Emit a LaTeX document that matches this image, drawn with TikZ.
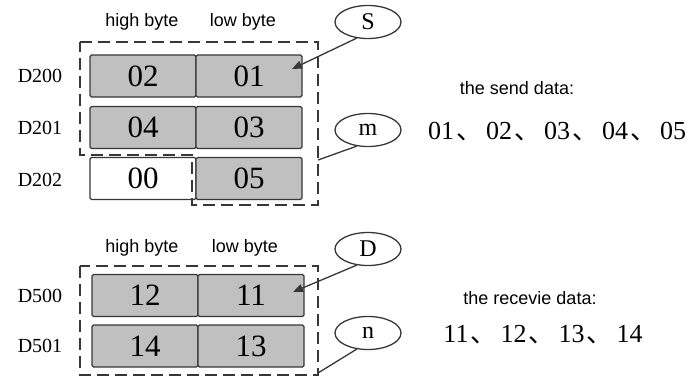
\documentclass[tikz,border=0pt]{standalone}
\usepackage{fontspec}
\setmainfont{Liberation Serif}
\setsansfont{Liberation Sans}
\newfontfamily\cjk{Noto Sans CJK SC}
\usepackage{tikz}
\usetikzlibrary{shapes.geometric, arrows.meta, positioning, calc}
\definecolor{cellgray}{RGB}{192,192,192}
\definecolor{linegray}{RGB}{55,55,55}
\newcommand{\dun}{\hspace{2pt}{\cjk 、}\hspace{4pt}}

\tikzset{
  cell/.style={draw=linegray, line width=1.4pt, fill=cellgray,
    minimum width=106pt, minimum height=42pt, inner sep=0pt,
    rounded corners=1.5pt, font=\fontsize{31}{31}\selectfont},
  blank/.style={cell, fill=white},
  reglabel/.style={font=\fontsize{20}{20}\selectfont},
  bytelabel/.style={font=\sffamily\fontsize{18}{18}\selectfont},
  opnd/.style={draw=linegray, ellipse, line width=1.3pt, minimum width=66pt,
    minimum height=33pt, inner sep=0pt, font=\fontsize{24}{24}\selectfont},
  region/.style={draw=linegray, line width=1.6pt, dash pattern=on 12pt off 6pt},
  pointer/.style={draw=linegray, line width=1.3pt},
  datahead/.style={font=\sffamily\fontsize{18}{18}\selectfont},
  datalist/.style={font=\fontsize{26}{26}\selectfont}
}

\begin{document}
\begin{tikzpicture}[x=1pt, y=-1pt]
\useasboundingbox (0,0) rectangle (694,381);
% Send block
\node[bytelabel] (hiS) at (142,22) {high byte};
\node[bytelabel] (loS) at (243,22) {low byte};
\node[cell] (h200) at (143,76) {02};
\node[cell] (l200) at (249,76) {01};
\node[cell] (h201) at (143,127.5) {04};
\node[cell] (l201) at (249,127.5) {03};
\node[blank] (h202) at (143,178.5) {00};
\node[cell] (l202) at (249,178.5) {05};
\node[reglabel] (r200) at (40,76) {D200};
\node[reglabel] (r201) at (40,127.5) {D201};
\node[reglabel] (r202) at (40,180) {D202};
\draw[region] (80,42) -- (318,42) -- (318,205) -- (192,205)
  -- (192,155) -- (80,155) -- cycle;
\node[opnd] (S) at (368,22) {S};
\node[opnd] (m) at (368,130) {m};
\coordinate (sTip) at (292,69);
\coordinate (mEnd) at (318,160);
\draw[pointer, -{Triangle[length=10pt, width=8pt]}] (S.235) -- (sTip);
\draw[pointer] (m.235) -- (mEnd);
\node[datahead] (sendHead) at (517,88) {the send data:};
\node[datalist] (sendList) at (557,132) {01\dun 02\dun 03\dun 04\dun 05};
% Receive block
\node[bytelabel] (hiD) at (142,248) {high byte};
\node[bytelabel] (loD) at (245,248) {low byte};
\node[cell] (h500) at (145,295.5) {12};
\node[cell] (l500) at (251,295.5) {11};
\node[cell] (h501) at (145,346) {14};
\node[cell] (l501) at (251,346) {13};
\node[reglabel] (r500) at (40,295.5) {D500};
\node[reglabel] (r501) at (40,346) {D501};
\draw[region] (80,266) rectangle (318,375);
\node[opnd] (D) at (368,249) {D};
\node[opnd] (n) at (368,333) {n};
\coordinate (dTip) at (293,292);
\coordinate (nEnd) at (318,373);
\draw[pointer, -{Triangle[length=10pt, width=8pt]}] (D.235) -- (dTip);
\draw[pointer] (n.235) -- (nEnd);
\node[datahead] (recvHead) at (530,298) {the recevie data:};
\node[datalist] (recvList) at (543,335) {11\dun 12\dun 13\dun 14};
\end{tikzpicture}
\end{document}
